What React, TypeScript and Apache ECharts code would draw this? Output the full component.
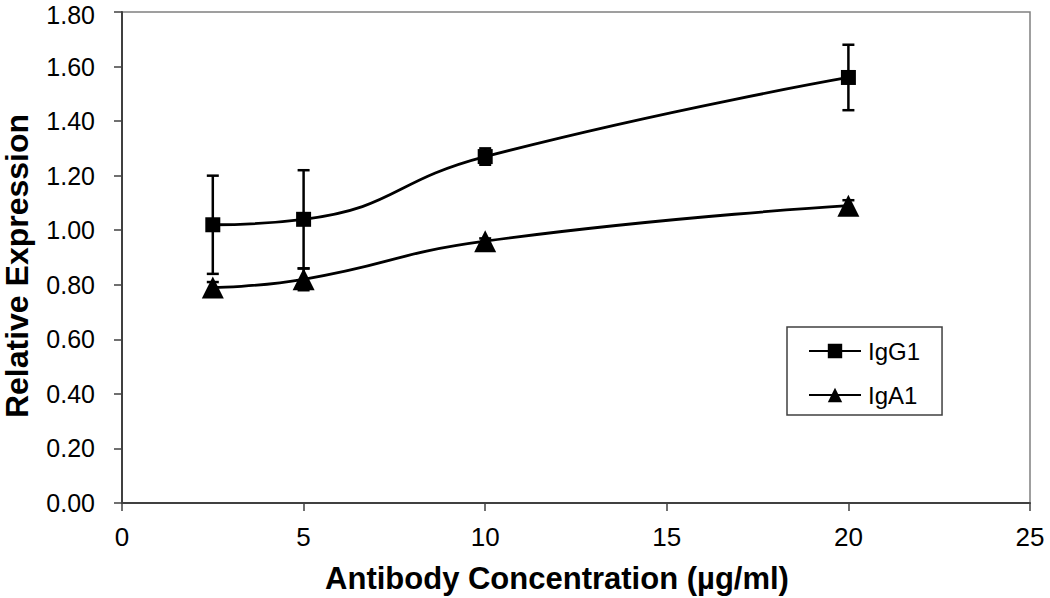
import React, { useEffect, useRef } from "react";
import * as echarts from "echarts";

const concentrations = [2.5, 5, 10, 20];
const igg1Values = [1.02, 1.04, 1.27, 1.56];
const igg1Errors = [0.18, 0.18, 0.03, 0.12];
const iga1Values = [0.79, 0.82, 0.96, 1.09];
const iga1Errors = [0.02, 0.04, 0.01, 0.02];
const xTitle = "Antibody Concentration (µg/ml)";
const yTitle = "Relative Expression";

const FONT = "'Liberation Sans', Arial, sans-serif";

function errorSeries(values: number[], errors: number[], name: string) {
  return {
    type: "custom",
    name: name + "-err",
    z: 3,
    silent: true,
    data: concentrations.map((c, i) => [c, values[i] - errors[i], values[i] + errors[i]]),
    renderItem: (_params: any, api: any) => {
      const x = api.value(0);
      const lo = api.coord([x, api.value(1)]);
      const hi = api.coord([x, api.value(2)]);
      const hw = 6;
      const style = { stroke: "#000", lineWidth: 2.5 };
      return {
        type: "group",
        children: [
          { type: "line", shape: { x1: lo[0], y1: lo[1], x2: hi[0], y2: hi[1] }, style },
          { type: "line", shape: { x1: lo[0] - hw, y1: lo[1], x2: lo[0] + hw, y2: lo[1] }, style },
          { type: "line", shape: { x1: hi[0] - hw, y1: hi[1], x2: hi[0] + hw, y2: hi[1] }, style },
        ],
      };
    },
  };
}

export default function App() {
  const ref = useRef<HTMLDivElement>(null);
  useEffect(() => {
    if (!ref.current) return;
    const chart = echarts.init(ref.current, undefined, { renderer: "svg" });
    chart.setOption({
      animation: false,
      backgroundColor: "#fff",
      textStyle: { fontFamily: FONT },
      grid: {
        left: 122,
        right: 20,
        top: 12,
        bottom: 95,
        show: true,
        borderColor: "#808080",
        borderWidth: 1.5,
        outerBoundsMode: "none",
        containLabel: false,
      },
      graphic: [
        {
          type: "text",
          x: 557,
          y: 578,
          style: {
            text: xTitle,
            font: "bold 31px " + FONT,
            fill: "#000",
            align: "center",
            verticalAlign: "middle",
          },
        },
        {
          type: "text",
          x: 17,
          y: 266,
          rotation: Math.PI / 2,
          style: {
            text: yTitle,
            font: "bold 32px " + FONT,
            fill: "#000",
            align: "center",
            verticalAlign: "middle",
          },
        },
      ],
      legend: {
        orient: "vertical",
        left: 787,
        top: 327,
        padding: [12, 22, 8, 21],
        itemGap: 20,
        itemWidth: 52,
        itemHeight: 18,
        borderColor: "#404040",
        borderWidth: 1.5,
        textStyle: { fontSize: 24, color: "#000", fontFamily: FONT, padding: [0, 0, 0, 2] },
        data: ["IgG1", "IgA1"],
      },
      xAxis: {
        type: "value",
        min: 0,
        max: 25,
        interval: 5,
        axisLine: { show: true, lineStyle: { color: "#404040", width: 2 } },
        axisTick: { show: true, inside: false, length: 8, lineStyle: { color: "#404040", width: 1.5 } },
        axisLabel: { fontSize: 26, color: "#000", margin: 21, fontFamily: FONT },
        splitLine: { show: false },
      },
      yAxis: {
        type: "value",
        min: 0,
        max: 1.8,
        interval: 0.2,
        axisLine: { show: true, lineStyle: { color: "#404040", width: 2 } },
        axisTick: { show: true, inside: false, length: 8, lineStyle: { color: "#404040", width: 1.5 } },
        axisLabel: {
          fontSize: 25,
          lineHeight: 22,
          color: "#000",
          margin: 27,
          fontFamily: FONT,
          formatter: (v: number) => (v >= 1.8 ? "{top|" + v.toFixed(2) + "}" : v.toFixed(2)),
          rich: {
            top: { fontSize: 25, lineHeight: 22, color: "#000", fontFamily: FONT, padding: [6, 0, 0, 0] },
          },
        },
        splitLine: { show: false },
      },
      series: [
        errorSeries(igg1Values, igg1Errors, "IgG1"),
        errorSeries(iga1Values, iga1Errors, "IgA1"),
        {
          type: "line",
          name: "IgG1",
          z: 4,
          smooth: 0.5,
          data: concentrations.map((c, i) => [c, igg1Values[i]]),
          symbol: "rect",
          symbolSize: 15,
          itemStyle: { color: "#000" },
          lineStyle: { color: "#000", width: 2.8 },
        },
        {
          type: "line",
          name: "IgA1",
          z: 4,
          smooth: 0.5,
          data: concentrations.map((c, i) => [c, iga1Values[i]]),
          symbol: "triangle",
          symbolSize: 22,
          itemStyle: { color: "#000" },
          lineStyle: { color: "#000", width: 2.8 },
        },
      ],
    });
    return () => chart.dispose();
  }, []);
  return <div ref={ref} style={{ width: 1050, height: 598, position: "absolute", left: 0, top: 0 }} />;
}
